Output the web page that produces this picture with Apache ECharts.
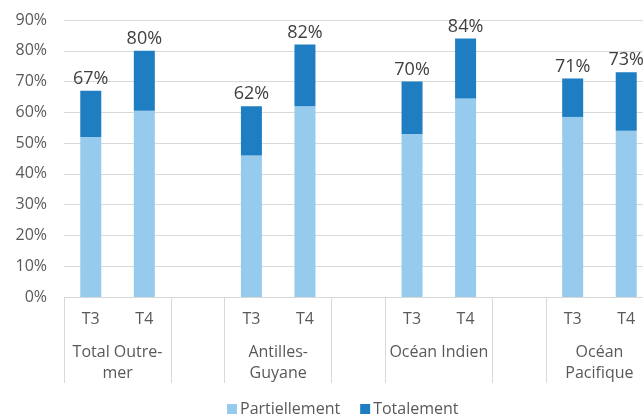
<!DOCTYPE html>
<html>
<head>
<meta charset="utf-8">
<script src="https://cdn.jsdelivr.net/npm/echarts@6/dist/echarts.min.js"></script>
<style>
  html, body { margin: 0; padding: 0; background: #fff; }
  #chart { width: 643px; height: 415px; }
</style>
</head>
<body>
<div id="chart"></div>
<script>
// Quarter slots, with empty slots separating the regions
const quarters = ['T3', 'T4', '', 'T3', 'T4', '', 'T3', 'T4', '', 'T3', 'T4'];
// Region names, each centred under its pair of quarters
const regions = ['Total Outre-\nmer', 'Antilles-\nGuyane', 'Océan Indien', 'Océan\nPacifique'];
// Share of the sample (%) — partial part and overall total per slot
const partiellement = [52, 60.5, null, 46, 62, null, 53, 64.5, null, 58.5, 54];
const totals = [67, 80, null, 62, 82, null, 70, 84, null, 71, 73];
const yTicks = [0, 10, 20, 30, 40, 50, 60, 70, 80, 90];

// Top segment = total minus the partial part
const totalement = totals.map((t, i) => (t == null ? null : +(t - partiellement[i]).toFixed(1)));

// Region label positions on a half-slot scale (0..22)
const regionPos = {};
regions.forEach((r, k) => { regionPos[2 + 6 * k] = r; });
// Separator ticks at region/gap boundaries
const separatorIdx = [0, 2, 3, 5, 6, 8, 9, 11];

const FONT = 'Open Sans';
const chart = echarts.init(document.getElementById('chart'), null, { renderer: 'canvas' });

chart.setOption({
  animation: false,
  textStyle: { fontFamily: FONT },
  // plot runs slightly past the right edge of the canvas
  grid: { left: 64, width: 589, top: 20, bottom: 118, containLabel: false, outerBoundsMode: 'none' },
  legend: {
    data: ['Partiellement', 'Totalement'],
    left: 222,
    top: 396,
    itemWidth: 10,
    itemHeight: 10,
    itemGap: 20,
    icon: 'rect',
    textStyle: { fontFamily: FONT, fontSize: 16, color: '#595959', padding: [0, 0, 0, -2] }
  },
  xAxis: [
    {
      type: 'category',
      data: quarters,
      axisLine: { lineStyle: { color: '#d9d9d9', width: 1 } },
      axisTick: {
        show: true,
        length: 86,
        interval: (i) => separatorIdx.includes(i),
        lineStyle: { color: '#d9d9d9', width: 1 }
      },
      axisLabel: { interval: 0, margin: 14, fontSize: 16, color: '#595959', fontFamily: FONT }
    },
    {
      type: 'value',
      min: 0,
      max: 22,
      interval: 1,
      position: 'bottom',
      axisLine: { show: false },
      axisTick: { show: false },
      splitLine: { show: false },
      axisLabel: {
        margin: 45,
        fontSize: 16,
        lineHeight: 21,
        color: '#595959',
        fontFamily: FONT,
        showMinLabel: true,
        showMaxLabel: true,
        formatter: (v) => regionPos[v] || ''
      }
    }
  ],
  yAxis: {
    type: 'value',
    min: yTicks[0],
    max: yTicks[yTicks.length - 1],
    interval: 10,
    axisLine: { show: false },
    axisTick: { show: false },
    splitLine: { lineStyle: { color: '#d9d9d9', width: 1 } },
    axisLabel: { margin: 17, fontSize: 16, color: '#595959', fontFamily: FONT, formatter: '{value}%' }
  },
  series: [
    {
      name: 'Partiellement',
      type: 'bar',
      stack: 'part',
      barWidth: 21,
      data: partiellement,
      itemStyle: { color: '#97CBEE' }
    },
    {
      name: 'Totalement',
      type: 'bar',
      stack: 'part',
      barWidth: 21,
      data: totalement,
      itemStyle: { color: '#1F7EC1' },
      label: {
        show: true,
        position: 'top',
        distance: 3,
        fontSize: 18,
        color: '#404040',
        fontFamily: FONT,
        formatter: (p) => totals[p.dataIndex] + '%'
      }
    }
  ]
});
</script>
</body>
</html>
